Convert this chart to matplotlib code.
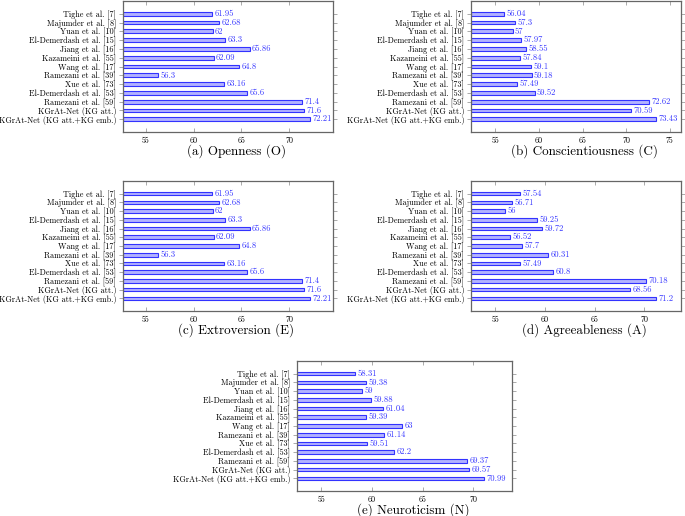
"""Horizontal bar comparison of personality-trait accuracy, five panels."""

import matplotlib
matplotlib.use("Agg")
import matplotlib.pyplot as plt

plt.rcParams["font.family"] = ["cmr10", "DejaVu Serif"]
plt.rcParams["axes.formatter.use_mathtext"] = True

methods = [
    "Tighe et al. [7]",
    "Majumder et al. [8]",
    "Yuan et al. [10]",
    "El-Demerdash et al. [15]",
    "Jiang et al. [16]",
    "Kazameini et al. [55]",
    "Wang et al. [17]",
    "Ramezani et al. [39]",
    "Xue et al. [73]",
    "El-Demerdash et al. [53]",
    "Ramezani et al. [59]",
    "KGrAt-Net (KG att.)",
    "KGrAt-Net (KG att.+KG emb.)",
]

openness = [61.95, 62.68, 62, 63.3, 65.86, 62.09, 64.8, 56.3, 63.16, 65.6, 71.4, 71.6, 72.21]
conscientiousness = [56.04, 57.3, 57, 57.97, 58.55, 57.84, 59.1, 59.18, 57.49, 59.52, 72.62, 70.59, 73.43]
extroversion = [61.95, 62.68, 62, 63.3, 65.86, 62.09, 64.8, 56.3, 63.16, 65.6, 71.4, 71.6, 72.21]
agreeableness = [57.54, 56.71, 56, 59.25, 59.72, 56.52, 57.7, 60.31, 57.49, 60.8, 70.18, 68.56, 71.2]
neuroticism = [58.31, 59.38, 59, 59.88, 61.04, 59.39, 63, 61.14, 59.51, 62.2, 69.37, 69.57, 70.99]

captions = [
    "(a) Openness (O)",
    "(b) Conscientiousness (C)",
    "(c) Extroversion (E)",
    "(d) Agreeableness (A)",
    "(e) Neuroticism (N)",
]

W, H = 685, 516
BAR_FILL = "#b3b3ff"
BAR_EDGE = "#3333ff"
LABEL_BLUE = "#3333ff"


def px_axes(fig, left, top, right, bottom):
    return fig.add_axes([left / W, (H - bottom) / H, (right - left) / W, (bottom - top) / H])


def draw_panel(ax, values, caption, xlim, xticks):
    pos = list(range(len(methods)))
    ax.barh(pos, [v - xlim[0] for v in values], left=xlim[0], height=0.42,
            color=BAR_FILL, edgecolor=BAR_EDGE, linewidth=0.8)
    for p, v in zip(pos, values):
        ax.text(v + 0.25, p, f"{v:g}", color=LABEL_BLUE, fontsize=6.2,
                va="center", ha="left")
    ax.set_xlim(*xlim)
    ax.set_ylim(len(methods) + 0.45, -1.45)
    ax.set_yticks(pos)
    ax.set_yticklabels(methods, fontsize=5.9)
    ax.set_xticks(xticks)
    ax.set_xticklabels([str(t) for t in xticks], fontsize=5.8)
    ax.tick_params(axis="y", direction="out", length=3, width=0.5, color="#888888",
                   right=True, pad=2)
    ax.tick_params(axis="x", direction="in", length=3, width=0.5, color="#888888",
                   top=True, pad=3)
    for s in ax.spines.values():
        s.set_color("#666666")
        s.set_linewidth(0.9)
    ax.text(0.54, -0.145, caption, transform=ax.transAxes, fontsize=9.4,
            ha="center", va="center")


def main():
    fig = plt.figure(figsize=(W / 100, H / 100), dpi=100)

    ax_a = px_axes(fig, 123, 1, 333, 132)
    draw_panel(ax_a, openness, captions[0], (52.6, 74.6), [55, 60, 65, 70])

    ax_b = px_axes(fig, 471, 1, 681, 132)
    draw_panel(ax_b, conscientiousness, captions[1], (52.2, 76.3), [55, 60, 65, 70, 75])

    ax_c = px_axes(fig, 123, 181, 333, 311)
    draw_panel(ax_c, extroversion, captions[2], (52.6, 74.6), [55, 60, 65, 70])

    ax_d = px_axes(fig, 471, 181, 681, 311)
    draw_panel(ax_d, agreeableness, captions[3], (52.56, 73.7), [55, 60, 65, 70])

    ax_e = px_axes(fig, 297, 361, 512, 491)
    draw_panel(ax_e, neuroticism, captions[4], (52.6, 73.8), [55, 60, 65, 70])

    fig.savefig("out.png", dpi=100)
    plt.close(fig)


if __name__ == "__main__":
    main()
